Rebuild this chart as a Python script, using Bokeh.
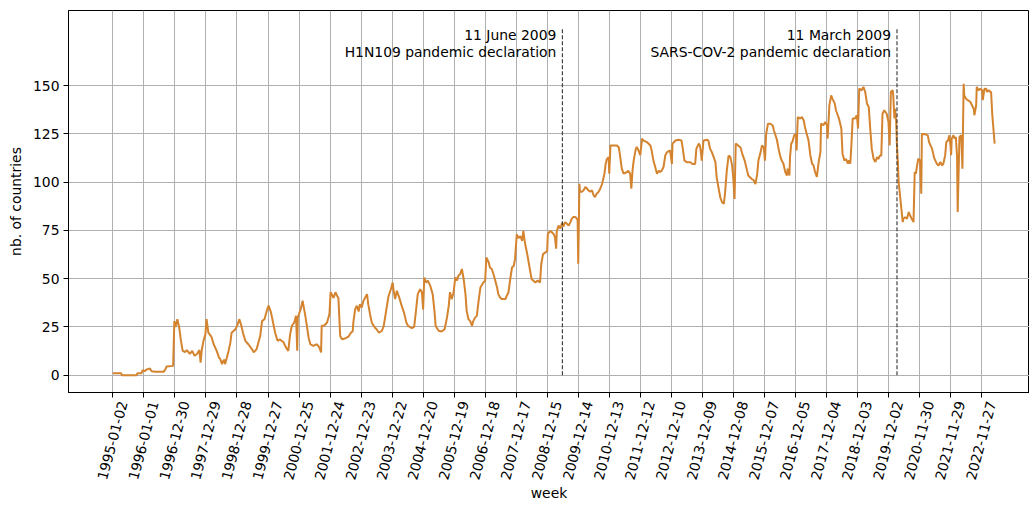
import math
import pandas as pd
from bokeh.plotting import figure
from bokeh.models import FixedTicker, Label, Range1d, LinearAxis
from bokeh.embed import file_html
from bokeh.resources import INLINE

# ---------------- data ----------------
tick_labels = ["1995-01-02", "1996-01-01", "1996-12-30", "1997-12-29", "1998-12-28",
               "1999-12-27", "2000-12-25", "2001-12-24", "2002-12-23", "2003-12-22",
               "2004-12-20", "2005-12-19", "2006-12-18", "2007-12-17", "2008-12-15",
               "2009-12-14", "2010-12-13", "2011-12-12", "2012-12-10", "2013-12-09",
               "2014-12-08", "2015-12-07", "2016-12-05", "2017-12-04", "2018-12-03",
               "2019-12-02", "2020-11-30", "2021-11-29", "2022-11-27"]
weeks_per_tick = 52

# week index (since 1995-01-02) and number of countries
weeks = [0, 14, 15, 40, 41, 48, 50, 53, 57, 62, 65, 71, 85, 88, 90, 101, 103, 105, 108, 111,
         114, 117, 121, 124, 129, 133, 137, 141, 145, 147, 149, 152, 155, 157, 160, 165, 169, 174,
         178, 180, 183, 185, 187, 188, 191, 194,
         197, 199, 205, 208, 212, 215, 218, 222, 227, 233, 236, 241, 247, 250, 254, 258, 261, 265,
         268, 272, 276, 280, 286, 290, 294, 297, 300, 304, 307, 309, 310, 312, 315, 318, 321, 324,
         328, 331, 336, 342, 346, 349, 350, 354, 359, 363, 365, 370, 373, 376, 378,
         381, 384, 389, 395, 399, 402, 403, 406, 409, 412, 414, 417, 420, 423, 426, 428, 431, 434,
         439, 442, 446, 451, 454, 458, 462, 466, 469, 470, 473, 476, 480, 484, 488, 492, 495, 501,
         505, 508, 511, 515, 518, 520, 522, 525, 528, 532, 536, 539, 541, 546, 551, 556, 560, 563,
         565,
         568, 571, 574, 577, 579, 582, 585, 588, 591, 593, 596, 599, 602, 604, 607, 610, 613, 616,
         619, 621, 624, 626, 630, 632, 635, 638, 641, 644, 646, 649, 652, 658, 660, 663, 666, 669,
         672, 674, 677, 680, 683, 686, 688, 691, 694, 697, 700, 702, 705, 708, 712, 716, 718, 721,
         725, 728, 729, 733, 736, 739, 741, 743, 744, 747, 750, 753,
         755, 758, 761, 764, 767, 769, 772, 775, 778, 779, 780, 782, 783, 786, 789, 792, 795, 797,
         800, 803, 806, 808, 811, 814, 817, 820, 822, 824, 826, 828, 831, 832, 834, 839, 845, 848,
         850, 853, 856, 862, 864, 867, 869, 871, 873, 876, 878, 881, 884, 887, 889, 895, 901, 903,
         906, 909, 912, 915, 917, 920, 923, 926, 929, 934,
         937, 938, 943, 948, 953, 955, 958, 962, 968, 971, 976, 978, 982, 984, 986, 987, 990, 996,
         998, 1001, 1004, 1007, 1010, 1012, 1015, 1018, 1021, 1024, 1026, 1029, 1032, 1035, 1038,
         1040, 1042, 1044, 1048, 1052, 1055, 1059, 1063, 1065, 1068, 1071, 1074, 1077, 1080, 1082,
         1085, 1088, 1091, 1093, 1095, 1098, 1102, 1106, 1108, 1110, 1113, 1116, 1119,
         1121, 1124, 1127, 1130, 1131, 1134, 1135, 1137, 1139, 1142, 1145, 1146, 1148, 1152, 1155,
         1158, 1160, 1163, 1166, 1169, 1172, 1174, 1177, 1180, 1183, 1186, 1187, 1191, 1194, 1197,
         1198, 1201, 1204, 1206, 1210, 1212, 1215, 1217, 1221, 1223, 1226, 1229, 1232, 1234, 1236,
         1238, 1240, 1244, 1247, 1249, 1251, 1255, 1258, 1261, 1264, 1267, 1269, 1272, 1275, 1278,
         1281, 1283, 1286, 1288, 1290, 1293,
         1295, 1297, 1300, 1302, 1304, 1307, 1308, 1310, 1311, 1313, 1314, 1316, 1317, 1320, 1321,
         1324, 1325, 1328, 1331, 1334, 1336, 1339, 1342, 1344, 1346, 1348, 1350, 1353, 1355, 1356,
         1362, 1366, 1368, 1373, 1377, 1381, 1384, 1387, 1390, 1392, 1395, 1397, 1400, 1402, 1404,
         1405, 1406, 1409, 1411, 1413, 1415, 1416, 1419, 1422, 1424, 1426, 1427, 1430, 1433, 1437,
         1440, 1443, 1444, 1447, 1448, 1451, 1454, 1457, 1458, 1461, 1464, 1465, 1468, 1471, 1472,
         1474, 1478]

countries = [1, 1, 0, 0, 1, 1, 2.6, 2, 3, 3.4, 2, 1.7, 1.7, 3, 4.5, 4.8, 28, 25, 29, 25,
             18, 12.6, 12, 13, 11, 12.6, 10, 11, 13, 6.5, 13, 18, 21, 29, 22, 20, 16, 12.6,
             9, 8.3, 5.7, 7.4, 8, 5.7, 9, 12.6,
             17, 22, 23.7, 25.4, 29, 26, 22, 17.8, 16, 13.5, 11.8, 13.5, 20.4, 28, 29, 33.4, 36, 32.5,
             28, 22, 17.8, 18.5, 17, 14.4, 12.6, 21, 25.6, 27.3, 30.8, 12.6, 30, 31.7, 34.3, 38.6, 33.4, 28,
             19.5, 16, 15.2, 16, 14.4, 11.8, 25.6, 25.6, 27.3, 31.7, 43, 40, 43, 41, 40,
             20.3, 18.6, 19, 20, 22, 22.8, 27.2, 34, 36, 33, 36.8, 35, 38.5, 40.2, 42, 36.8, 31.6, 27.2,
             24.7, 23.8, 22, 23, 25.5, 33.3, 41, 44.5, 48, 45, 39.4, 43.7, 40.2, 36, 32.4, 27.2, 25.5, 24.3,
             25, 33.3, 42, 44.5, 43, 34, 50.6, 48, 49, 46.3, 42, 33.3, 25.5, 23, 22.6, 23.8, 29.8, 36,
             43,
             39.4, 42.8, 50.7, 49, 51.5, 52.3, 55, 49.7, 42, 33.3, 29, 28, 25.5, 28, 29.8, 30.7, 38.5, 45.4,
             47, 48, 48.9, 61, 58.4, 55.8, 55, 52.3, 48.9, 45.4, 42, 40.2, 39.4, 39.4, 41, 42.8, 49.7, 55.8,
             56.7, 60, 73, 71, 72, 69.6, 74.8, 68, 63.6, 58.4, 53, 49.7, 48.9, 48, 49, 48, 57.5, 62.7,
             63.6, 64.4, 73, 74.8, 74, 73, 71.5, 65.5, 74.5, 77.5, 76, 79,
             77, 79.3, 78.5, 77.6, 79.3, 81, 82, 82, 81, 80.2, 57.7, 99.2, 95, 95, 95.8, 97.5, 96.6, 95.8,
             95, 95.8, 93, 92.3, 94, 95, 96.6, 99.2, 101.8, 104.4, 109.6, 112, 113, 104.4, 119, 119, 119, 118,
             114, 107, 104.4, 105.3, 106, 104.4, 96.6, 106, 111.3, 116.5, 118.3, 116.5, 114, 122.6, 121.7, 120.8, 119, 116.5,
             111.3, 107.9, 104.4, 106, 105.3, 106, 107.9, 114, 115.6, 116.5,
             109.5, 120, 121.6, 122, 121.6, 118, 111.2, 110.4, 110.4, 109.5, 109.5, 117.3, 120, 119, 114.7, 111.2, 121.6, 122,
             121.6, 117.3, 115.6, 113, 110.4, 102.6, 97.4, 92.2, 89.6, 88.8, 94, 106, 113.8, 113, 108.6,
             101.7, 91.3, 120, 119, 118, 114.7, 111.2, 106, 103.5, 102.6, 101.7, 101, 99, 104.3, 111.2,
             114.7, 119, 118, 111.2, 125, 130.3, 130.3, 129.4, 126.8, 125, 122, 117, 113,
             111.3, 109.6, 105.3, 103.5, 107, 103.5, 113, 120, 121, 124.3, 125, 116.5, 133.8, 133, 133.8,
             132, 128.6, 125, 121.7, 114, 109.6, 109, 105.3, 102.7, 110.5, 115.7, 130.4, 129.5, 131.2, 129.5,
             122.6, 139.9, 145, 143.3, 140.7, 137.3, 134.7, 133, 127.8, 114.8, 111.3, 112, 109.6, 111.3, 109.6,
             120, 133, 133, 134.7, 127.8, 148.5, 147.6, 149.4, 146.8, 140.7, 139, 129.5, 117.4, 112.2, 110.5,
             113, 112, 113.9, 113.9, 135.5, 137.3,
             136.4, 135.5, 131.2, 119.1, 146.8, 147.7, 145, 133, 138, 131.2, 120.8, 108.7, 100, 91.4, 88,
             79.3, 81, 81.9, 81, 84.5, 83, 81, 79.3, 105.3, 104.4, 108.7, 112.2, 111.3, 94, 125,
             124.8, 124.3, 120.8, 117.4, 112.2, 109.6, 108.7, 110.5, 108.7, 109.6, 113.9, 120.8, 121.7, 124.3, 119,
             114, 122.6, 124.3, 122.6, 123.4, 113, 84.5, 123.4, 124.3, 107, 151, 145, 143.3, 142.5, 141.7,
             139.9, 138, 134.7, 139.9, 149.4, 147.7, 148.5, 147.7, 142.5, 148.5, 148.5, 146.8, 147.7, 146.8, 146.8,
             135, 120]

y_ticks = [0, 25, 50, 75, 100, 125, 150]

start_date = "1995-01-02"
event_dates = ["2009-06-11", "2020-03-11"]
event_line1 = ["11 June 2009", "11 March 2009"]
event_line2 = ["H1N109 pandemic declaration", "SARS-COV-2 pandemic declaration"]
event_ymin, event_ymax = 0, 180

# ---------------- figure ----------------
FONT = "DejaVu Sans"
FS = "13.9px"
LINE_COLOR = "#d4832f"
X0, X1 = -74.4, 1536.4
Y0, Y1 = -9, 189
FRAME_LEFT, WIDTH = 68, 1029
PX_PER_WEEK = (WIDTH - FRAME_LEFT) / (X1 - X0)
LABEL_SHIFT_PX = 10   # matplotlib centres the rotated label box on the tick

event_weeks = [(pd.Timestamp(d) - pd.Timestamp(start_date)).days / 7 for d in event_dates]
shift = LABEL_SHIFT_PX / PX_PER_WEEK

p = figure(width=WIDTH, height=506, output_backend="svg", toolbar_location=None,
           x_range=Range1d(X0, X1), y_range=Range1d(Y0, Y1),
           extra_x_ranges={"labels": Range1d(X0 - shift, X1 - shift)},
           min_border_left=FRAME_LEFT, min_border_right=0, min_border_top=10, min_border_bottom=114,
           background_fill_color="white", border_fill_color="white")

p.line(weeks, countries, line_color=LINE_COLOR, line_width=2)

p.segment(x0=event_weeks, y0=[event_ymin] * len(event_weeks),
          x1=event_weeks, y1=[event_ymax] * len(event_weeks),
          line_color="#333333", line_width=1.1, line_dash="4 2")

for w, t1, t2 in zip(event_weeks, event_line1, event_line2):
    for k, t in enumerate([t1, t2]):
        p.add_layout(Label(x=w, y=event_ymax, x_offset=-6, y_offset=1 - 16.7 * k, text=t,
                           text_align="right", text_baseline="top",
                           text_font=FONT, text_font_size=FS, text_color="black"))

# x axis: the main axis carries the ticks, a second axis carries the rotated labels
xt = [i * weeks_per_tick for i in range(len(tick_labels))]
xa = p.xaxis[0]
xa.ticker = FixedTicker(ticks=xt)
xa.major_label_text_color = None
xa.major_label_text_font_size = "0px"
xa.major_label_standoff = 0

lab_axis = LinearAxis(x_range_name="labels", ticker=FixedTicker(ticks=xt),
                      major_label_overrides={t: lab for t, lab in zip(xt, tick_labels)},
                      major_label_orientation=math.radians(75),
                      axis_line_color=None, major_tick_line_color=None, minor_tick_line_color=None,
                      major_tick_out=0, major_tick_in=0, major_label_standoff=4,
                      major_label_text_font=FONT, major_label_text_font_size=FS,
                      major_label_text_color="black",
                      axis_label="week", axis_label_standoff=0,
                      axis_label_text_font=FONT, axis_label_text_font_size=FS,
                      axis_label_text_font_style="normal", axis_label_text_color="black")
p.add_layout(lab_axis, "below")

p.yaxis.ticker = FixedTicker(ticks=y_ticks)
p.yaxis.axis_label = "nb. of countries"
p.yaxis.major_label_text_font = FONT
p.yaxis.major_label_text_font_size = FS
p.yaxis.major_label_text_color = "black"
p.yaxis.axis_label_text_font = FONT
p.yaxis.axis_label_text_font_size = FS
p.yaxis.axis_label_text_font_style = "normal"
p.yaxis.axis_label_text_color = "black"
p.yaxis.axis_label_standoff = 6
p.yaxis.major_label_standoff = 4

for ax in [xa, p.yaxis[0]]:
    ax.axis_line_color = "black"
    ax.axis_line_width = 1
    ax.major_tick_line_color = "black"
    ax.major_tick_out = 5
    ax.major_tick_in = 0
    ax.minor_tick_line_color = None

p.xgrid.ticker = FixedTicker(ticks=xt)
p.ygrid.ticker = FixedTicker(ticks=y_ticks)
p.grid.grid_line_color = "#b0b0b0"
p.grid.grid_line_width = 1

p.outline_line_color = "black"
p.outline_line_width = 1

open("out.html", "w").write(file_html(p, INLINE))
